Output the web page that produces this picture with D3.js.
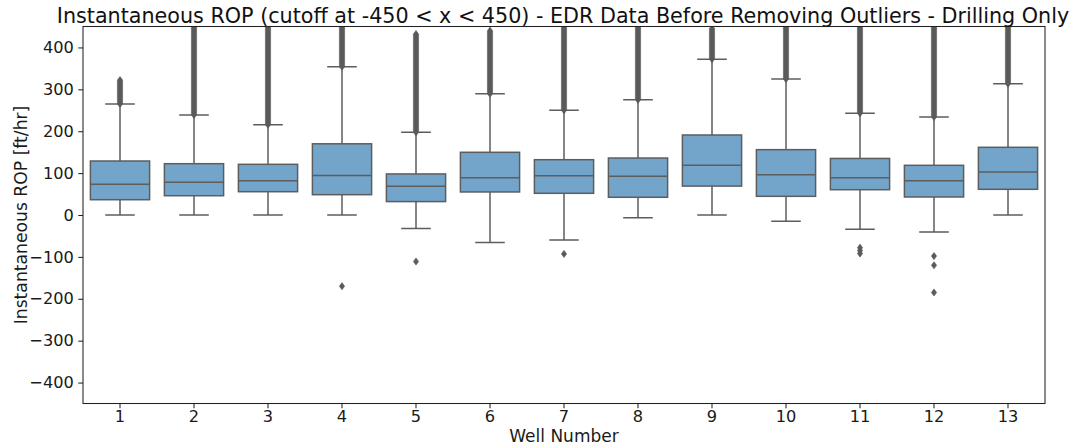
<!DOCTYPE html>
<html>
<head>
<meta charset="utf-8">
<script src="https://cdn.jsdelivr.net/npm/d3@7"></script>
<style>
  html, body { margin: 0; padding: 0; background: #fff; }
  svg { display: block; font-family: "DejaVu Sans", sans-serif; }
</style>
</head>
<body>
<svg id="chart" width="1075" height="448"></svg>
<script>
// ---- data ----
const wells = ["1","2","3","4","5","6","7","8","9","10","11","12","13"];
const q1 =        [36.5, 46, 55.6, 48.5, 32, 55, 51.8, 42.3, 69, 44.6, 60.4, 43, 61.3];
const medians =   [73.3, 78, 82, 94, 68.5, 89, 93.8, 92.4, 118.6, 96, 89, 82, 102.6];
const q3 =        [128.9, 122.5, 121, 170, 98, 149.7, 132, 136, 191, 156, 135, 118.6, 161.6];
const whiskerLo = [0, 0, 0, 0, -32, -65.5, -59.7, -6.4, 0, -15, -34, -40.6, 0];
const whiskerHi = [265, 238.7, 215.5, 354, 197.4, 289.5, 250, 275, 372, 324.6, 242.7, 234, 313.4];
// dense upper outlier runs (min, max) per well
const outlierRunLo = [265, 238.7, 215.5, 354, 197.4, 289.5, 250, 275, 372, 324.6, 242.7, 234, 313.4];
const outlierRunHi = [322, 450, 450, 450, 432, 440, 450, 450, 445, 450, 450, 450, 450];
// isolated low outliers
const lowOutlierWell =  ["4", "5", "7", "11", "11", "11", "12", "12", "12"];
const lowOutlierValue = [-170, -111, -93, -78, -85, -92, -98, -120, -185];
const yTicks = [-400, -300, -200, -100, 0, 100, 200, 300, 400];

const title = "Instantaneous ROP (cutoff at -450 < x < 450) - EDR Data Before Removing Outliers - Drilling Only";
const xLabel = "Well Number";
const yLabel = "Instantaneous ROP [ft/hr]";

// ---- layout ----
const m = { left: 83, right: 1045, top: 26.5, bottom: 403.5 };
const boxFill = "#73a5cb";
const lineCol = "#5d5d5d";
const ptCol = "#5a5a5a";

const svg = d3.select("#chart");

const x = d3.scaleBand().domain(wells).range([m.left, m.right]).paddingInner(0).paddingOuter(0);
const y = d3.scaleLinear().domain([-450, 450]).range([m.bottom, m.top]);

const bw = x.bandwidth() * 0.8;
const cx = w => x(w) + x.bandwidth() / 2;

svg.append("clipPath").attr("id", "plotclip")
  .append("rect").attr("x", m.left).attr("y", m.top)
  .attr("width", m.right - m.left).attr("height", m.bottom - m.top);

const g = svg.append("g").attr("clip-path", "url(#plotclip)");

const data = wells.map((w, i) => ({
  w, q1: q1[i], med: medians[i], q3: q3[i], lo: whiskerLo[i], hi: whiskerHi[i],
  rl: outlierRunLo[i], rh: outlierRunHi[i]
}));

// whiskers
g.selectAll("line.wlo").data(data).join("line")
  .attr("x1", d => cx(d.w)).attr("x2", d => cx(d.w))
  .attr("y1", d => y(d.q1)).attr("y2", d => y(d.lo))
  .attr("stroke", lineCol).attr("stroke-width", 1.5);
g.selectAll("line.whi").data(data).join("line")
  .attr("x1", d => cx(d.w)).attr("x2", d => cx(d.w))
  .attr("y1", d => y(d.q3)).attr("y2", d => y(d.hi))
  .attr("stroke", lineCol).attr("stroke-width", 1.5);
// caps
["lo", "hi"].forEach(k => {
  g.selectAll("line.cap" + k).data(data).join("line")
    .attr("x1", d => cx(d.w) - bw / 4).attr("x2", d => cx(d.w) + bw / 4)
    .attr("y1", d => y(d[k])).attr("y2", d => y(d[k]))
    .attr("stroke", lineCol).attr("stroke-width", 1.5);
});

// boxes
g.selectAll("rect.box").data(data).join("rect")
  .attr("x", d => cx(d.w) - bw / 2).attr("width", bw)
  .attr("y", d => y(d.q3)).attr("height", d => y(d.q1) - y(d.q3))
  .attr("fill", boxFill).attr("stroke", lineCol).attr("stroke-width", 1.5);
// medians
g.selectAll("line.med").data(data).join("line")
  .attr("x1", d => cx(d.w) - bw / 2).attr("x2", d => cx(d.w) + bw / 2)
  .attr("y1", d => y(d.med)).attr("y2", d => y(d.med))
  .attr("stroke", lineCol).attr("stroke-width", 1.5);

// dense outlier runs (overlapping diamond markers)
const hw = 2.6, hh = 3.6;
g.selectAll("path.run").data(data).join("path")
  .attr("d", d => {
    const xc = cx(d.w), yt = y(d.rh), yb = y(d.rl);
    return `M${xc},${yt - hh} L${xc + hw},${yt} L${xc + hw},${yb} L${xc},${yb + hh} L${xc - hw},${yb} L${xc - hw},${yt} Z`;
  })
  .attr("fill", ptCol).attr("stroke", ptCol).attr("stroke-width", 0.6);

// isolated outliers
const lows = lowOutlierWell.map((w, i) => ({ w, v: lowOutlierValue[i] }));
g.selectAll("path.pt").data(lows).join("path")
  .attr("d", d => {
    const xc = cx(d.w), yc = y(d.v);
    return `M${xc},${yc - hh} L${xc + hw},${yc} L${xc},${yc + hh} L${xc - hw},${yc} Z`;
  })
  .attr("fill", ptCol).attr("stroke", ptCol).attr("stroke-width", 0.6);

// axes
const xAxis = d3.axisBottom(x).tickSize(4.7).tickPadding(2.4);
const yAxis = d3.axisLeft(y).tickValues(yTicks).tickSize(4.7).tickPadding(4.5)
  .tickFormat(d => d < 0 ? "\u2212" + Math.abs(d) : String(d));

const gx = svg.append("g").attr("transform", `translate(0,${m.bottom})`).call(xAxis);
const gy = svg.append("g").attr("transform", `translate(${m.left},0)`).call(yAxis);
[gx, gy].forEach(a => {
  a.select(".domain").remove();
  a.selectAll(".tick line").attr("stroke", "#222").attr("stroke-width", 1.05);
  a.selectAll(".tick text").attr("fill", "#1a1a1a")
    .style("font-family", "DejaVu Sans").style("font-size", "16.2px");
});

// frame
svg.append("rect").attr("x", m.left).attr("y", m.top)
  .attr("width", m.right - m.left).attr("height", m.bottom - m.top)
  .attr("fill", "none").attr("stroke", "#222").attr("stroke-width", 1.05);

// title & labels
svg.append("text").attr("x", (m.left + m.right) / 2 - 1).attr("y", 22.5)
  .attr("text-anchor", "middle").attr("fill", "#111")
  .style("font-size", "20.7px").text(title);
svg.append("text").attr("x", (m.left + m.right) / 2).attr("y", 442)
  .attr("text-anchor", "middle").attr("fill", "#1a1a1a")
  .style("font-size", "17px").text(xLabel);
svg.append("text").attr("transform", `translate(27,${(m.top + m.bottom) / 2}) rotate(-90)`)
  .attr("text-anchor", "middle").attr("fill", "#1a1a1a")
  .style("font-size", "17.2px").text(yLabel);
</script>
</body>
</html>
